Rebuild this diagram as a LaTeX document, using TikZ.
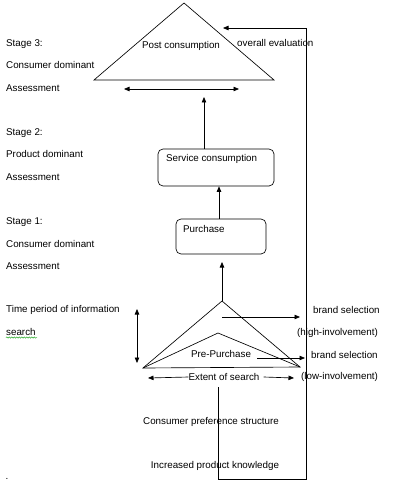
\documentclass[tikz,border=0pt]{standalone}
\usepackage{fontspec}
\setmainfont{Liberation Sans}
\usetikzlibrary{arrows.meta,decorations.pathmorphing}
\begin{document}
\begin{tikzpicture}[x=1pt,y=-1pt,
  every node/.style={font=\fontsize{9.8}{11}\selectfont, inner sep=0pt},
  ln/.style={line width=0.65pt},
  arr/.style={ln,-{Triangle[length=5.5pt,width=4.5pt]}},
  darr/.style={ln,{Triangle[length=5.5pt,width=4.5pt]}-{Triangle[length=5.5pt,width=4.5pt]}},
  lbl/.style={anchor=west},
  boxx/.style={draw,ln,rounded corners=5pt}]
\useasboundingbox (0,0) rectangle (404,484);
% left labels
\node[lbl] (s3) at (6,44) {Stage 3:};
\node[lbl] (s3a) at (6,65) {Consumer dominant};
\node[lbl] (s3b) at (6,88) {Assessment};
\node[lbl] (s2) at (6,133) {Stage 2:};
\node[lbl] (s2a) at (6,154) {Product dominant};
\node[lbl] (s2b) at (6,177) {Assessment};
\node[lbl] (s1) at (6,222) {Stage 1:};
\node[lbl] (s1a) at (6,244) {Consumer dominant};
\node[lbl] (s1b) at (6,266) {Assessment};
\node[lbl] (tp) at (6,310) {Time period of information};
\node[lbl] (ts) at (6,332) {search};
\draw[green!60!black, line width=0.4pt, decorate, decoration={snake,amplitude=0.7pt,segment length=2.5pt}] (6,337.5) -- (37,337.5);
% top triangle
\coordinate (ta) at (184,3);
\coordinate (tl) at (94,80);
\coordinate (tr) at (274,80);
\draw[ln] (tl) -- (ta) -- (tr) -- cycle;
\node (post) at (181,46) {Post consumption};
\node[lbl] (oe) at (237,43) {overall evaluation};
\coordinate (dl) at (124,89);
\coordinate (dr) at (239,89);
\draw[darr] (dl) -- (dr);
% boxes
\node[boxx, minimum width=116pt, minimum height=37pt] (serv) at (216,167.5) {};
\node[lbl] (servt) at (166,159) {Service consumption};
\node[boxx, minimum width=90pt, minimum height=35pt] (purch) at (221,236.5) {};
\node[lbl] (purcht) at (183,229) {Purchase};
\coordinate (t1) at (204,97);
\draw[arr] (serv.north -| t1) -- (t1);
\draw[arr] (purch.north -| 219,0) -- (serv.south -| 219,0);
% lower triangles
\coordinate (la) at (222,301);
\coordinate (ll) at (143,368);
\coordinate (lr) at (300,367);
\coordinate (ia) at (218,333);
\draw[ln] (ll) -- (la) -- (lr) -- cycle;
\draw[ln] (ll) -- (ia) -- (lr);
\coordinate (t2) at (222,262);
\draw[arr] (la) -- (t2);
\coordinate (h1) at (222,317);
\coordinate (h2) at (300,317);
\draw[arr] (h1) -- (h2);
\node[lbl] (bs1) at (313,310) {brand selection};
\node[lbl] (hi) at (297,333) {(high-involvement)};
\node (pre) at (221,354) {Pre-Purchase};
\coordinate (p1) at (257,358);
\coordinate (p2) at (305,358);
\draw[arr] (p1) -- (p2);
\node[lbl] (bs2) at (311,355) {brand selection};
\node[lbl] (lo) at (301,377) {(low-involvement)};
\node (ext) at (224,377) {Extent of search};
\coordinate (e1) at (148,378);
\coordinate (e2) at (294,378);
\draw[arr] (ext.west) -- (e1);
\draw[arr] ([xshift=4pt]ext.east) -- (e2);
\coordinate (v1) at (137,309);
\coordinate (v2) at (137,363);
\draw[darr] (v1) -- (v2);
% bottom
\node (cps) at (211,422) {Consumer preference structure};
\node (ipk) at (215,466) {Increased product knowledge};
\coordinate (f0) at (218,387);
\coordinate (f1) at (218,479);
\coordinate (f2) at (306,479);
\coordinate (f3) at (306,28);
\coordinate (f4) at (223,28);
\draw[arr] (f0) -- (f1) -- (f2) -- (f3) -- (f4);
\node (dot) at (7,479) {.};
\end{tikzpicture}
\end{document}
